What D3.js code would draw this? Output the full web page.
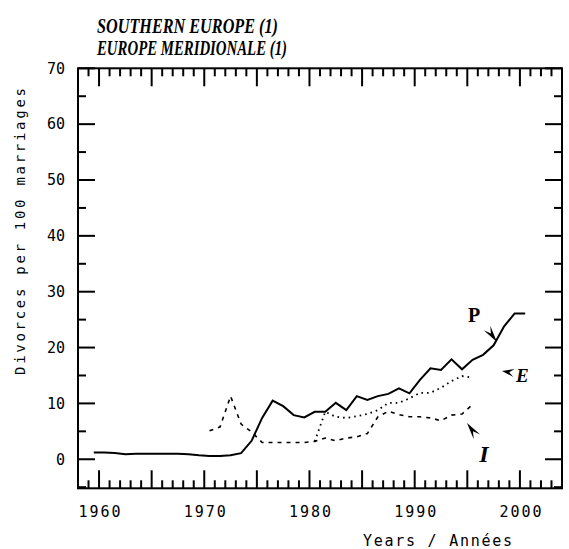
<!DOCTYPE html>
<html><head><meta charset="utf-8">
<script src="https://cdn.jsdelivr.net/npm/d3@7"></script>
<style>body{margin:0;background:#fff}</style>
</head><body>
<svg id="chart" width="569" height="549"></svg>
<script>
// ---- data ----
const yearsP = d3.range(1959, 2001);
const valuesP = [1.2,1.2,1.1,0.9,1.0,1.0,1.0,1.0,1.0,0.9,0.7,0.6,0.6,0.7,1.1,3.3,7.4,10.5,9.5,7.9,7.5,8.5,8.5,10.1,8.8,11.3,10.6,11.3,11.7,12.7,11.8,14.2,16.3,16.0,17.9,16.1,17.8,18.7,20.4,23.8,26.1,26.1];
const yearsI = d3.range(1970, 1996);
const valuesI = [5.1,5.8,11.3,6.3,4.9,3.0,3.0,3.0,3.0,3.0,3.2,3.8,3.3,3.8,4.0,4.6,7.6,8.6,8.0,7.6,7.6,7.4,6.9,7.9,8.1,9.8];
const yearsE = d3.range(1980, 1996);
const valuesE = [3.2,8.5,7.6,7.4,7.7,8.1,8.8,10.1,10.1,10.9,11.9,11.9,12.8,14.0,14.9,14.6];
const yTicksMajor = [0,10,20,30,40,50,60,70];
const yTicksMinor = [-5,5,15,25,35,45,55,65];
const xTickLabels = [1960,1970,1980,1990,2000];
const xTicksMajor = [1960,1965,1970,1975,1980,1985,1990,1995,2000];
const xTicksMinor = d3.range(1958, 2005).filter(v => v % 5 !== 0);
const titleLines = ["SOUTHERN EUROPE (1)", "EUROPE MERIDIONALE (1)"];
const yLabel = "Divorces per 100 marriages";
const xLabel = "Years / Années";

// ---- layout ----
const svg = d3.select("#chart");
const L = 78, R = 562, T = 68.3, B = 488.3;
const x = d3.scaleLinear().domain([1958, 2004]).range([L, R]);
const y = d3.scaleLinear().domain([-5.2, 70]).range([B, T]);
const mono = "'DejaVu Sans Mono', monospace";

function styleAxis(g){
  g.select(".domain").remove();
  g.selectAll("text").attr("fill", "#000").style("font-family", mono).style("font-size", "15px");
}

// tick labels via axes
svg.append("g").attr("transform", `translate(${L},0)`)
  .call(d3.axisLeft(y).tickValues(yTicksMajor).tickSize(0).tickPadding(13).tickFormat(d3.format("d")))
  .call(styleAxis);
svg.append("g").attr("transform", `translate(0,${B})`)
  .call(d3.axisBottom(x).tickValues(xTickLabels).tickSize(0).tickPadding(18).tickFormat(d3.format("d")))
  .call(styleAxis)
  .selectAll("text").attr("textLength", 42).attr("lengthAdjust", "spacing");

// inward tick marks from scales
const tg = svg.append("g").attr("stroke", "#000").attr("stroke-width", 2);
function yTicks(vals, len){
  tg.selectAll(null).data(vals).join("line")
    .attr("x1", L).attr("x2", L + len).attr("y1", d => y(d)).attr("y2", d => y(d));
  tg.selectAll(null).data(vals).join("line")
    .attr("x1", R).attr("x2", R - len).attr("y1", d => y(d)).attr("y2", d => y(d));
}
function xTicks(vals, len){
  tg.selectAll(null).data(vals).join("line")
    .attr("y1", B).attr("y2", B - len).attr("x1", d => x(d)).attr("x2", d => x(d));
  tg.selectAll(null).data(vals).join("line")
    .attr("y1", T).attr("y2", T + len).attr("x1", d => x(d)).attr("x2", d => x(d));
}
yTicks(yTicksMajor, 17);
yTicks(yTicksMinor, 8);
xTicks(xTicksMajor, 18);
xTicks(xTicksMinor, 8);

// frame
svg.append("rect").attr("x", L).attr("y", T).attr("width", R - L).attr("height", B - T)
  .attr("fill", "none").attr("stroke", "#000").attr("stroke-width", 2);

// lines
const line = d3.line().x(d => x(d[0] + 0.5)).y(d => y(d[1]));
const zip = (a, b) => a.map((v, i) => [v, b[i]]);
svg.append("path").datum(zip(yearsI, valuesI)).attr("d", line)
  .attr("fill", "none").attr("stroke", "#000").attr("stroke-width", 1.6).attr("stroke-dasharray", "4,5");
svg.append("path").datum(zip(yearsE, valuesE)).attr("d", line)
  .attr("fill", "none").attr("stroke", "#000").attr("stroke-width", 1.8).attr("stroke-dasharray", "1.6,4");
svg.append("path").datum(zip(yearsP, valuesP)).attr("d", line)
  .attr("fill", "none").attr("stroke", "#000").attr("stroke-width", 2);

// arrows (notched arrowheads) in data coordinates
function arrow(tip, back){
  const tx = x(tip[0]), ty = y(tip[1]), bx = x(back[0]), by = y(back[1]);
  const ang = Math.atan2(ty - by, tx - bx) * 180 / Math.PI;
  const len = Math.hypot(tx - bx, ty - by);
  svg.append("path")
    .attr("d", `M0,0 L${-len},${-4} L${-len*0.6},0 L${-len},${4} Z`)
    .attr("transform", `translate(${tx},${ty}) rotate(${ang})`)
    .attr("fill", "#000");
}
arrow([1997.82, 21.0], [1996.87, 23.5]);
arrow([1998.30, 15.8], [1999.44, 15.45]);
arrow([1994.97, 6.5], [1995.92, 4.0]);

const serif = "'Liberation Serif', 'Times New Roman', serif";
svg.append("text").attr("x", x(1995.64)).attr("y", y(24.58)).attr("text-anchor", "middle")
  .style("font-family", serif).style("font-weight", "bold").style("font-size", "20px").text("P");
svg.append("text").attr("x", x(1999.63)).attr("y", y(13.84))
  .style("font-family", serif).style("font-weight", "bold").style("font-style", "italic").style("font-size", "19px").text("E");
svg.append("text").attr("x", x(1996.59)).attr("y", y(-0.5)).attr("text-anchor", "middle")
  .style("font-family", serif).style("font-weight", "bold").style("font-style", "italic").style("font-size", "24px").text("I");

// titles
const tl = [181, 190];
titleLines.forEach((t, i) => {
  svg.append("text").attr("x", 97).attr("y", 33 + i * 22)
    .attr("textLength", tl[i]).attr("lengthAdjust", "spacingAndGlyphs")
    .style("font-family", serif).style("font-weight", "bold").style("font-style", "italic")
    .style("font-size", "21px").text(t);
});

// axis titles
svg.append("text").attr("transform", "translate(25,231.5) rotate(-90)").attr("text-anchor", "middle")
  .attr("textLength", 287).attr("lengthAdjust", "spacing")
  .style("font-family", mono).style("font-size", "14px").text(yLabel);
svg.append("text").attr("x", 363).attr("y", 546)
  .attr("textLength", 149).attr("lengthAdjust", "spacing")
  .style("font-family", mono).style("font-size", "15px").text(xLabel);
</script>
</body></html>
